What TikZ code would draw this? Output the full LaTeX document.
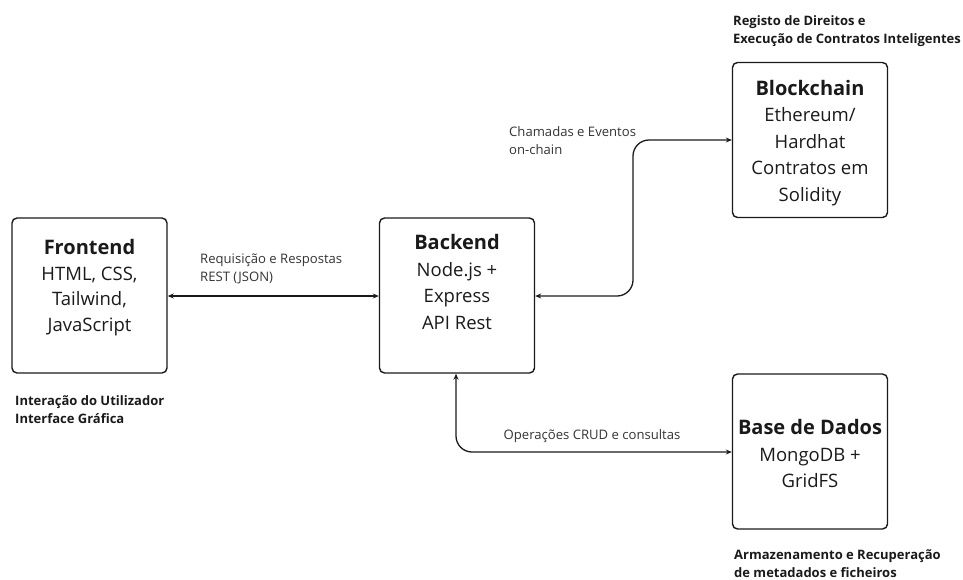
\documentclass[tikz,border=0pt]{standalone}
\usepackage{fontspec}
\setmainfont{Open Sans}
\usetikzlibrary{arrows.meta}
\definecolor{ink}{HTML}{1A1A1A}
\definecolor{lbl}{HTML}{333333}
\begin{document}
\begin{tikzpicture}[x=1pt,y=-1pt,
  box/.style={draw=ink,line width=1.4pt,rounded corners=5pt,minimum width=155pt,minimum height=155pt,inner sep=0pt},
  boxtext/.style={anchor=north,align=center,inner sep=0pt,font=\fontsize{18.5}{26.5}\selectfont,text=ink},
  lab/.style={anchor=north west,align=left,inner sep=0pt,font=\fontsize{13.1}{18}\selectfont,text=lbl},
  blab/.style={anchor=north west,align=left,inner sep=0pt,font=\fontsize{13}{18}\selectfont\bfseries,text=ink},
  conn/.style={draw=ink,line width=1.3pt,{Stealth[length=6pt,width=5pt]}-{Stealth[length=6pt,width=5pt]},rounded corners=16pt}
]
\useasboundingbox (0,0) rectangle (963,579);
% boxes
\node[box] (fe) at (89.5,295.5) {};
\node[box] (be) at (457,295.5) {};
\node[box] (bc) at (810,140) {};
\node[box] (db) at (810,451.5) {};
% box texts
\node[boxtext,font=\fontsize{18.5}{25.5}\selectfont] (fet) at ([yshift=-22pt]fe.north) {{\fontsize{20}{25.5}\selectfont\bfseries Frontend}\\HTML, CSS,\\Tailwind,\\JavaScript};
\node[boxtext] (bet) at ([yshift=-17pt]be.north) {{\fontsize{20}{26.5}\selectfont\bfseries Backend}\\Node.js +\\Express\\API Rest};
\node[boxtext] (bct) at ([yshift=-18pt]bc.north) {{\fontsize{20}{26.5}\selectfont\bfseries Blockchain}\\Ethereum/\\Hardhat\\Contratos em\\Solidity};
\node[boxtext] (dbt) at ([yshift=-46pt]db.north) {{\fontsize{20}{26.5}\selectfont\bfseries Base de Dados}\\MongoDB +\\GridFS};
% side labels
\node[blab] (fel) at (15,395) {Interação do Utilizador\\Interface Gráfica};
\node[blab] (bcl) at (733,15) {Registo de Direitos e\\Execução de Contratos Inteligentes};
\node[blab] (dbl) at (734,549) {Armazenamento e Recuperação\\de metadados e ficheiros};
% connectors
\draw[conn] (fe.east |- 0,296) -- (be.west |- 0,296);
\coordinate (k1) at (633,296);
\draw[conn] (be.east |- k1) -- (k1) -- (633,140) -- (bc.west);
\coordinate (k2) at (456,452);
\draw[conn] (be.south -| k2) -- (k2) -- (db.west |- k2);
% connector labels
\node[lab] (l1) at (200,254) {Requisição e Respostas\\REST (JSON)};
\node[lab] (l2) at (509,126) {Chamadas e Eventos\\on-chain};
\node[lab,anchor=north] (l3) at (592,429) {Operações CRUD e consultas};
\end{tikzpicture}
\end{document}
